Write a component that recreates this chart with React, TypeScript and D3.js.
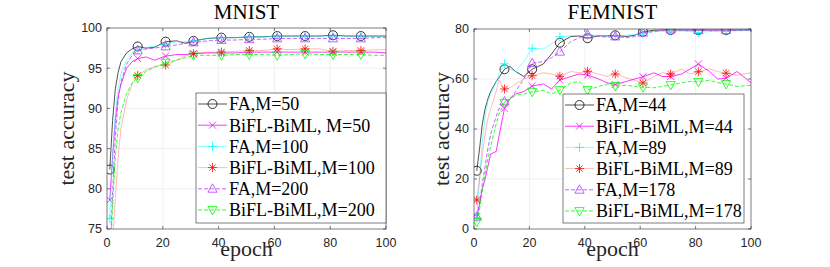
import { useEffect, useRef } from 'react';
import * as d3 from 'd3';

// ---- data ----
const markerEpochs = [1, 11, 21, 31, 41, 51, 61, 71, 81, 91];

const mnistEpochs = [1, 2, 3, 4, 5, 7, 9, 11, 14, 17, 21, 25, 28, 31, 36, 41, 46, 51, 56, 61, 66, 71, 76, 81, 86, 91, 96, 100];
const mnistFA50 = [82.4, 88.5, 92.5, 94.5, 95.8, 96.9, 97.4, 97.7, 97.5, 97.6, 98.3, 98.4, 98.1, 98.4, 98.7, 98.8, 98.8, 98.9, 98.9, 99.0, 99.0, 99.0, 99.0, 99.1, 99.0, 99.0, 99.0, 99.0];
const mnistBiFL50 = [78.6, 84, 88.5, 91.5, 93, 95, 95.8, 96.2, 96.4, 96.0, 96.5, 96.7, 96.7, 96.8, 96.9, 96.9, 96.9, 97.0, 97.0, 97.0, 97.0, 97.0, 97.0, 97.0, 97.0, 97.0, 97.0, 96.9];
const mnistFA100 = [76.3, 84, 89.5, 92.5, 94.3, 96.0, 96.9, 97.3, 97.6, 97.7, 98.0, 98.3, 98.3, 98.4, 98.7, 98.8, 98.8, 98.9, 98.9, 99.0, 99.0, 99.0, 99.0, 99.0, 99.0, 99.0, 99.0, 99.0];
const mnistBiFL100 = [68, 73, 79, 84, 87.5, 91, 93, 94.1, 94.8, 95.2, 95.4, 96.0, 96.5, 96.8, 97.0, 97.0, 97.1, 97.2, 97.2, 97.4, 97.3, 97.4, 97.4, 97.1, 97.2, 97.2, 97.3, 97.3];
const mnistFA200 = [71, 79.5, 86.5, 91, 93.3, 95.5, 96.6, 97.2, 97.4, 97.5, 97.7, 97.9, 98.1, 98.2, 98.4, 98.5, 98.5, 98.6, 98.6, 98.7, 98.7, 98.7, 98.7, 98.7, 98.7, 98.7, 98.8, 98.8];
const mnistBiFL200 = [70, 78, 84, 87.5, 89.5, 91.8, 93.2, 93.8, 94.6, 95.1, 95.7, 96.0, 96.3, 96.6, 96.6, 96.6, 96.7, 96.7, 96.7, 96.6, 96.7, 96.8, 96.7, 96.7, 96.7, 96.7, 96.6, 96.6];
const mnistLabels = ['FA,M=50', 'BiFL-BiML, M=50', 'FA,M=100', 'BiFL-BiML,M=100', 'FA,M=200', 'BiFL-BiML,M=200'];
const mnistTicks = [75, 80, 85, 90, 95, 100];

const femnistEpochs = [1, 2, 3, 4, 5, 6, 8, 9, 11, 13, 15, 18, 21, 25, 28, 31, 35, 38, 41, 45, 48, 51, 55, 58, 61, 65, 68, 71, 75, 78, 81, 85, 88, 91, 95, 100];
const femnistFA44 = [23.3, 32, 42, 48, 52, 55, 59, 60.5, 63.9, 65, 63, 61, 63.9, 66, 70, 74.5, 77, 77.2, 76.3, 77.3, 77.2, 77.5, 77.0, 77.5, 78.9, 79.5, 79.6, 79.6, 79.6, 79.6, 79.6, 79.6, 79.6, 79.6, 79.6, 79.6];
const femnistBiFL44 = [5, 10, 16, 20, 25, 30, 31, 37, 48.3, 52, 54, 55, 57.2, 58, 56, 59.6, 61, 62, 61.6, 60, 58.5, 57.8, 59, 60, 60.9, 62.5, 61, 61, 62, 64, 66, 63, 60, 60.3, 63, 58.5];
const femnistFA89 = [4.5, 20, 35, 45, 51, 54, 59, 62, 66.1, 64, 63, 67, 72.3, 72, 74, 76.9, 77.3, 77.4, 77.5, 77.5, 77, 77.2, 77.5, 77.8, 78, 79, 79, 79, 79.2, 79, 78.5, 79, 79, 79, 79.3, 79.5];
const femnistBiFL89 = [11.6, 20, 30, 38, 44, 48, 55, 59.5, 56, 56.5, 58, 60, 61.3, 62.5, 62, 61.1, 63, 62.5, 63.1, 62, 61, 62, 60.5, 59.5, 58.4, 61, 62.5, 62, 64, 62, 62.9, 64, 63, 62.3, 61.5, 62.5];
const femnistFA178 = [4.9, 10, 18, 25, 32, 38, 45, 48, 51, 52, 55, 60, 66.3, 67, 68.5, 70.9, 75, 76.5, 77.8, 77, 76.8, 77, 76.5, 77, 78.5, 79, 79.5, 79.8, 79.5, 79.3, 79.5, 79.3, 79.4, 79.5, 79.4, 79.5];
const femnistBiFL178 = [2.9, 8, 15, 22, 28, 33, 42, 46, 50.5, 52, 53.5, 54, 54.9, 55.5, 54, 55.6, 58.5, 59, 55.6, 57, 58, 57.2, 57.5, 57, 56.7, 56.5, 57, 57.6, 58.5, 59, 58.9, 59.5, 58.5, 58, 57, 57.5];
const femnistLabels = ['FA,M=44', 'BiFL-BiML,M=44', 'FA,M=89', 'BiFL-BiML,M=89', 'FA,M=178', 'BiFL-BiML,M=178'];
const femnistTicks = [0, 20, 40, 60, 80];

const xTicks = [0, 20, 40, 60, 80, 100];

// ---- series styles (same order in both panels) ----
type Marker = 'circle' | 'x' | 'plus' | 'star' | 'up' | 'down';
const styles: { line: string; mark: string; dash?: string; lineOpacity?: number; marker: Marker }[] = [
  { line: '#000000', mark: '#000000', marker: 'circle', lineOpacity: 0.85 },
  { line: '#ff00ff', mark: '#ff00ff', marker: 'x' },
  { line: '#00ffff', mark: '#00ffff', marker: 'plus', lineOpacity: 0.6 },
  { line: '#ff0000', mark: '#ff0000', marker: 'star', lineOpacity: 0.35 },
  { line: '#b43cff', mark: '#b43cff', dash: '4,2', marker: 'up' },
  { line: '#00ff00', mark: '#00ff00', dash: '4,2', marker: 'down' },
];

function markerPath(m: Marker): string {
  switch (m) {
    case 'x':
      return 'M-3.5,-3.5L3.5,3.5M-3.5,3.5L3.5,-3.5';
    case 'plus':
      return 'M-4.5,0H4.5M0,-4.5V4.5';
    case 'star':
      return 'M-4.5,0H4.5M0,-4.5V4.5M-3.2,-3.2L3.2,3.2M-3.2,3.2L3.2,-3.2';
    case 'up':
      return 'M0,-5L4.6,3.4L-4.6,3.4Z';
    case 'down':
      return 'M0,5L4.6,-3.4L-4.6,-3.4Z';
    default:
      return d3.symbol(d3.symbolCircle, 64)() as string;
  }
}

type PanelCfg = {
  id: string;
  title: string;
  left: number;
  right: number;
  top: number;
  bottom: number;
  yDomain: [number, number];
  yTicks: number[];
  epochs: number[];
  series: number[][];
  labels: string[];
  legend: { x: number; y: number; w: number; h: number };
  ylabelX: number;
};

const panels: PanelCfg[] = [
  {
    id: 'mnist', title: 'MNIST', left: 107, right: 386, top: 28, bottom: 229,
    yDomain: [75, 100], yTicks: mnistTicks, epochs: mnistEpochs,
    series: [mnistFA50, mnistBiFL50, mnistFA100, mnistBiFL100, mnistFA200, mnistBiFL200],
    labels: mnistLabels, legend: { x: 196, y: 93, w: 190, h: 130 }, ylabelX: 74,
  },
  {
    id: 'femnist', title: 'FEMNIST', left: 474, right: 751, top: 29, bottom: 229,
    yDomain: [0, 80], yTicks: femnistTicks, epochs: femnistEpochs,
    series: [femnistFA44, femnistBiFL44, femnistFA89, femnistBiFL89, femnistFA178, femnistBiFL178],
    labels: femnistLabels, legend: { x: 563, y: 94, w: 181, h: 129 }, ylabelX: 449,
  },
];

const serif = '"Liberation Serif", "Times New Roman", serif';
const sans = '"Liberation Sans", Arial, sans-serif';
const axisColor = '#262626';

export default function App() {
  const ref = useRef<SVGSVGElement | null>(null);

  useEffect(() => {
    if (!ref.current) return;
    const svg = d3.select(ref.current);
    svg.selectAll('*').remove();

    panels.forEach((p) => {
      const x = d3.scaleLinear().domain([0, 100]).range([p.left, p.right]);
      const y = d3.scaleLinear().domain(p.yDomain).range([p.bottom, p.top]);
      const g = svg.append('g');

      // grid
      g.selectAll('line.gx')
        .data(xTicks.slice(1, -1))
        .join('line')
        .attr('x1', (d) => x(d)).attr('x2', (d) => x(d))
        .attr('y1', p.top).attr('y2', p.bottom)
        .attr('stroke', '#e6e6e6').attr('stroke-width', 0.6);
      g.selectAll('line.gy')
        .data(p.yTicks.slice(1, -1))
        .join('line')
        .attr('x1', p.left).attr('x2', p.right)
        .attr('y1', (d) => y(d)).attr('y2', (d) => y(d))
        .attr('stroke', '#e6e6e6').attr('stroke-width', 0.6);

      // clip
      svg.append('defs').append('clipPath').attr('id', `clip-${p.id}`)
        .append('rect')
        .attr('x', p.left).attr('y', p.top)
        .attr('width', p.right - p.left).attr('height', p.bottom - p.top);

      const plot = g.append('g').attr('clip-path', `url(#clip-${p.id})`);
      const line = d3.line<number>()
        .x((_, i) => x(p.epochs[i]))
        .y((d) => y(d));

      p.series.forEach((vals, si) => {
        const st = styles[si];
        plot.append('path')
          .attr('d', line(vals) as string)
          .attr('fill', 'none')
          .attr('stroke', st.line)
          .attr('stroke-opacity', st.lineOpacity ?? 1)
          .attr('stroke-width', 0.8)
          .attr('stroke-dasharray', st.dash ?? null);
        const pts = markerEpochs
          .map((e) => ({ e, v: vals[p.epochs.indexOf(e)] }))
          .filter((d) => d.v !== undefined);
        plot.selectAll(null)
          .data(pts)
          .join('path')
          .attr('transform', (d) => `translate(${x(d.e)},${y(d.v)})`)
          .attr('d', markerPath(st.marker))
          .attr('fill', 'none')
          .attr('stroke', st.mark)
          .attr('stroke-width', 0.8);
      });

      // axes box
      g.append('rect')
        .attr('x', p.left).attr('y', p.top)
        .attr('width', p.right - p.left).attr('height', p.bottom - p.top)
        .attr('fill', 'none').attr('stroke', axisColor).attr('stroke-width', 0.6);

      // ticks
      xTicks.forEach((t) => {
        g.append('line').attr('x1', x(t)).attr('x2', x(t))
          .attr('y1', p.bottom).attr('y2', p.bottom - 3)
          .attr('stroke', axisColor).attr('stroke-width', 0.6);
        g.append('line').attr('x1', x(t)).attr('x2', x(t))
          .attr('y1', p.top).attr('y2', p.top + 3)
          .attr('stroke', axisColor).attr('stroke-width', 0.6);
        g.append('text')
          .attr('x', x(t)).attr('y', p.bottom + 18)
          .attr('text-anchor', 'middle')
          .attr('font-family', sans).attr('font-size', 12.5)
          .attr('fill', axisColor)
          .text(t);
      });
      p.yTicks.forEach((t) => {
        g.append('line').attr('x1', p.left).attr('x2', p.left + 3)
          .attr('y1', y(t)).attr('y2', y(t))
          .attr('stroke', axisColor).attr('stroke-width', 0.6);
        g.append('line').attr('x1', p.right).attr('x2', p.right - 3)
          .attr('y1', y(t)).attr('y2', y(t))
          .attr('stroke', axisColor).attr('stroke-width', 0.6);
        g.append('text')
          .attr('x', p.left - 5).attr('y', y(t)).attr('dy', '0.35em')
          .attr('text-anchor', 'end')
          .attr('font-family', sans).attr('font-size', 12.5)
          .attr('fill', axisColor)
          .text(t);
      });

      // labels
      const cx = (p.left + p.right) / 2;
      g.append('text')
        .attr('x', cx).attr('y', 19)
        .attr('text-anchor', 'middle')
        .attr('font-family', serif).attr('font-size', 21)
        .text(p.title);
      g.append('text')
        .attr('x', cx).attr('y', 256)
        .attr('text-anchor', 'middle')
        .attr('font-family', serif).attr('font-size', 22)
        .attr('fill', axisColor)
        .text('epoch');
      g.append('text')
        .attr('transform', `translate(${p.ylabelX},${(p.top + p.bottom) / 2}) rotate(-90)`)
        .attr('text-anchor', 'middle')
        .attr('font-family', serif).attr('font-size', 22)
        .attr('fill', axisColor)
        .text('test accuracy');

      // legend
      const L = p.legend;
      const lg = g.append('g');
      lg.append('rect')
        .attr('x', L.x).attr('y', L.y).attr('width', L.w).attr('height', L.h)
        .attr('fill', '#ffffff').attr('stroke', axisColor).attr('stroke-width', 0.6);
      p.labels.forEach((lab, i) => {
        const st = styles[i];
        const ry = L.y + 11 + i * 21.2;
        lg.append('line')
          .attr('x1', L.x + 2).attr('x2', L.x + 31)
          .attr('y1', ry).attr('y2', ry)
          .attr('stroke', st.line)
          .attr('stroke-opacity', st.lineOpacity ?? 1)
          .attr('stroke-width', 0.8)
          .attr('stroke-dasharray', st.dash ?? null);
        lg.append('path')
          .attr('transform', `translate(${L.x + 16.5},${ry})`)
          .attr('d', markerPath(st.marker))
          .attr('fill', 'none').attr('stroke', st.mark).attr('stroke-width', 0.8);
        lg.append('text')
          .attr('x', L.x + 33).attr('y', ry).attr('dy', '0.35em')
          .attr('font-family', serif).attr('font-size', 18)
          .text(lab);
      });
    });
  }, []);

  return (
    <svg
      ref={ref}
      width={830}
      height={267}
      viewBox="0 0 830 267"
      style={{ position: 'absolute', left: 0, top: 0, background: '#ffffff' }}
    />
  );
}
